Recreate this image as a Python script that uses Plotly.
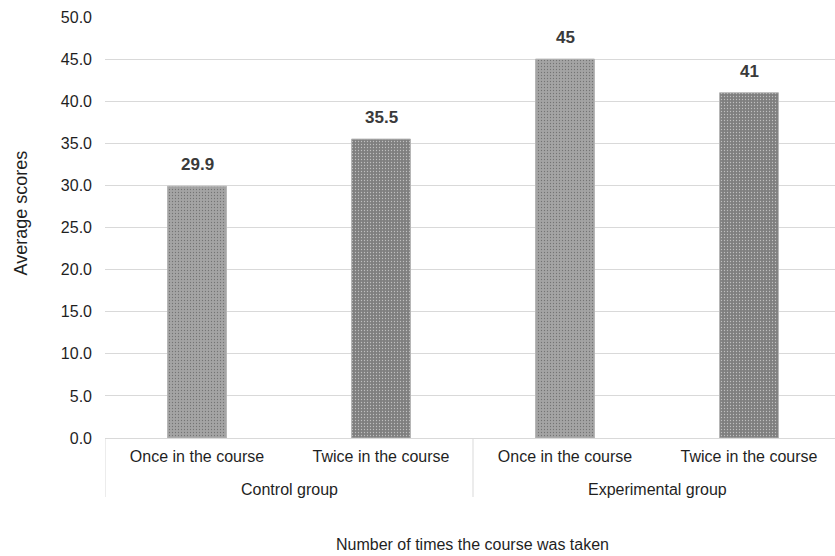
import plotly.graph_objects as go

groups = ["Control group", "Experimental group"]
times = ["Once in the course", "Twice in the course", "Once in the course", "Twice in the course"]
scores = [29.9, 35.5, 45, 41]
bar_colors = ["#a4a4a4", "#7f7f7f", "#a4a4a4", "#7f7f7f"]
y_ticks = [0, 5, 10, 15, 20, 25, 30, 35, 40, 45, 50]

FONT = "Liberation Sans, Arial, sans-serif"
TXT = "#1f1f1f"
GRID = "#d9d9d9"

x_pos = list(range(len(scores)))

fig = go.Figure(
    go.Bar(
        x=x_pos,
        y=scores,
        marker=dict(
            color=bar_colors,
            line=dict(color="#b5b5b5", width=1),
            pattern=dict(shape=".", size=3, solidity=0.15, fgcolor="#b4b4b4", fillmode="overlay"),
        ),
        width=0.32,
        hoverinfo="skip",
    )
)

# value labels above each bar
for xi, v in zip(x_pos, scores):
    fig.add_annotation(
        x=xi, y=v, xref="x", yref="y", text=f"{v:g}", showarrow=False,
        yanchor="bottom", yshift=10,
        font=dict(family=FONT, size=17, color="#3a3a3a", weight="bold"),
    )

# group labels under the category labels
for gi, g in enumerate(groups):
    fig.add_annotation(
        x=gi * 2 + 0.5, y=0, xref="x", yref="paper", text=g, showarrow=False,
        yanchor="middle", yshift=-51,
        font=dict(family=FONT, size=16, color=TXT),
    )

# group dividers
for xd in [-0.5, 1.5, 3.5]:
    fig.add_shape(
        type="line", xref="x", yref="paper", x0=xd, x1=xd, y0=0, y1=-59 / 421,
        line=dict(color=GRID, width=1),
    )

# axis titles
fig.add_annotation(
    x=0.5, y=0, xref="paper", yref="paper", text="Number of times the course was taken",
    showarrow=False, yanchor="middle", yshift=-106, xshift=2,
    font=dict(family=FONT, size=16, color=TXT),
)
fig.add_annotation(
    x=0, y=0.5, xref="paper", yref="paper", text="Average scores",
    showarrow=False, textangle=-90, xanchor="center", xshift=-85, yshift=14,
    font=dict(family=FONT, size=18, color=TXT),
)

fig.update_layout(
    width=835,
    height=556,
    margin=dict(l=105, r=0, t=17, b=118),
    paper_bgcolor="white",
    plot_bgcolor="white",
    showlegend=False,
    font=dict(family=FONT, size=16, color=TXT),
    xaxis=dict(
        range=[-0.5, 3.5 - 6 / 184],
        tickvals=x_pos,
        ticktext=times,
        showgrid=False,
        zeroline=False,
        showline=True,
        linecolor=GRID,
        ticks="",
        ticklabelstandoff=4,
        tickfont=dict(family=FONT, size=16, color=TXT),
    ),
    yaxis=dict(
        range=[0, 50],
        tickvals=y_ticks,
        tickformat=".1f",
        showgrid=True,
        gridcolor=GRID,
        gridwidth=1,
        zeroline=False,
        ticks="",
        ticklabelstandoff=12,
        tickfont=dict(family=FONT, size=16, color=TXT),
    ),
)

fig.write_html("out.html")
